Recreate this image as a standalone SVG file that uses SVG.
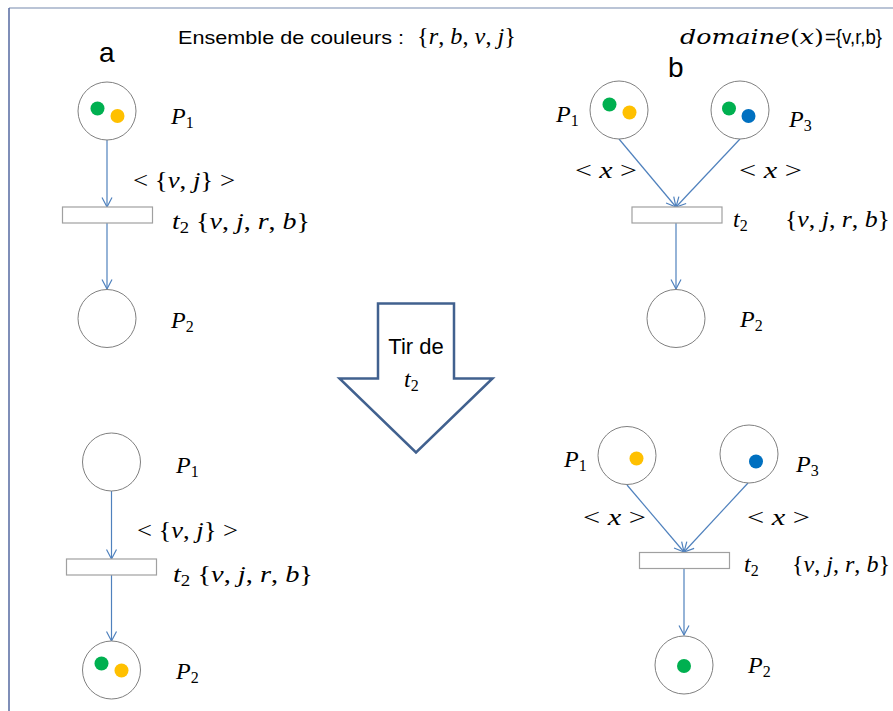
<svg xmlns="http://www.w3.org/2000/svg" width="893" height="711" viewBox="0 0 893 711">
<style>
.place{fill:#fff;stroke:#808080;stroke-width:1}
.trans{fill:#fff;stroke:#a0a0a0;stroke-width:1.2}
.arc{fill:none;stroke:#4f81bd;stroke-width:1.2}
.g{fill:#00b050}.y{fill:#ffc000}.bl{fill:#0070c0}
.m{font-family:"Liberation Serif","DejaVu Serif",serif;font-size:24px;fill:#000}
.i{font-style:italic}
.s{font-family:"Liberation Sans",Arial,sans-serif;fill:#000}
.sub{font-size:16px;font-style:normal}
</style>
<defs>
<marker id="ah" markerUnits="userSpaceOnUse" markerWidth="12" markerHeight="12" viewBox="0 0 12 12" refX="10.5" refY="6" orient="auto">
<path d="M1,1 L10.5,6 L1,11" fill="none" stroke="#4f81bd" stroke-width="1.2"/>
</marker>
</defs>
<rect width="893" height="711" fill="#fff"/>
<line x1="9" y1="8" x2="893" y2="8" stroke="#a3b1c8" stroke-width="1.5"/>
<line x1="9" y1="8" x2="9" y2="711" stroke="#5468a0" stroke-width="1.5"/>

<g id="header">
<text class="s" x="178" y="44" font-size="19" textLength="226" lengthAdjust="spacingAndGlyphs">Ensemble de couleurs :</text>
<text class="m" x="417" y="44" font-size="21" textLength="99" lengthAdjust="spacingAndGlyphs">{<tspan class="i">r</tspan>, <tspan class="i">b</tspan>, <tspan class="i">v</tspan>, <tspan class="i">j</tspan>}</text>
<text x="680" y="44" font-family="'DejaVu Serif','Liberation Serif',serif" font-size="21" textLength="144" lengthAdjust="spacingAndGlyphs"><tspan font-style="italic">domaine</tspan>(<tspan font-style="italic">x</tspan>)</text>
<text class="s" x="825" y="44" font-size="20" textLength="57" lengthAdjust="spacingAndGlyphs">={v,r,b}</text>
<text class="s" x="99" y="61.5" font-size="28">a</text>
<text class="s" x="668" y="76.5" font-size="28">b</text>
</g>

<g id="connectors">
<line class="arc" x1="107" y1="140" x2="107" y2="207" marker-end="url(#ah)"/>
<line class="arc" x1="107" y1="223" x2="107" y2="289" marker-end="url(#ah)"/>
<line class="arc" x1="619" y1="139" x2="676" y2="207" marker-end="url(#ah)"/>
<line class="arc" x1="740" y1="139" x2="676" y2="207" marker-end="url(#ah)"/>
<line class="arc" x1="676" y1="223" x2="676" y2="289" marker-end="url(#ah)"/>
<line class="arc" x1="111.5" y1="491" x2="111.5" y2="559" marker-end="url(#ah)"/>
<line class="arc" x1="111.5" y1="575" x2="111.5" y2="641" marker-end="url(#ah)"/>
<line class="arc" x1="627" y1="485" x2="684" y2="552" marker-end="url(#ah)"/>
<line class="arc" x1="748" y1="483" x2="684" y2="552" marker-end="url(#ah)"/>
<line class="arc" x1="684" y1="568.5" x2="684" y2="635" marker-end="url(#ah)"/>
</g>

<!-- panel a, before -->
<g id="a1-P1">
<circle class="place" cx="107" cy="111" r="29"/>
<circle class="g" cx="97.5" cy="108.5" r="7"/>
<circle class="y" cx="117.5" cy="116" r="7"/>
<text class="m i" x="171" y="124">P<tspan class="sub" dy="4">1</tspan></text>
</g>
<g id="a1-t2">
<rect class="trans" x="62.5" y="207" width="90" height="16"/>
<text class="m" x="172" y="229" textLength="138" lengthAdjust="spacingAndGlyphs"><tspan class="i">t</tspan><tspan class="sub" dy="4">2</tspan><tspan dy="-4">  {</tspan><tspan class="i">v</tspan>, <tspan class="i">j</tspan>, <tspan class="i">r</tspan>, <tspan class="i">b</tspan>}</text>
</g>
<g id="a1-P2">
<circle class="place" cx="107" cy="318.5" r="29"/>
<text class="m i" x="171" y="328">P<tspan class="sub" dy="4">2</tspan></text>
</g>
<text class="m" x="133" y="188" textLength="102" lengthAdjust="spacingAndGlyphs">&lt; {<tspan class="i">v</tspan>, <tspan class="i">j</tspan>} &gt;</text>

<!-- panel b, before -->
<g id="b1-P1">
<circle class="place" cx="619" cy="110" r="29"/>
<circle class="g" cx="609.5" cy="104.5" r="7"/>
<circle class="y" cx="629.5" cy="112.5" r="7"/>
<text class="m i" x="556" y="122">P<tspan class="sub" dy="4">1</tspan></text>
</g>
<g id="b1-P3">
<circle class="place" cx="740" cy="110" r="29"/>
<circle class="g" cx="729" cy="108.5" r="7"/>
<circle class="bl" cx="748.5" cy="116" r="7"/>
<text class="m i" x="789" y="127">P<tspan class="sub" dy="4">3</tspan></text>
</g>
<g id="b1-t2">
<rect class="trans" x="632" y="207" width="90" height="16"/>
<text class="m" x="733" y="227"><tspan class="i">t</tspan><tspan class="sub" dy="4">2</tspan></text>
<text class="m" x="785" y="227" textLength="105" lengthAdjust="spacingAndGlyphs">{<tspan class="i">v</tspan>, <tspan class="i">j</tspan>, <tspan class="i">r</tspan>, <tspan class="i">b</tspan>}</text>
</g>
<g id="b1-P2">
<circle class="place" cx="676" cy="318.5" r="29"/>
<text class="m i" x="740" y="327">P<tspan class="sub" dy="4">2</tspan></text>
</g>
<text class="m" x="575" y="178" textLength="62" lengthAdjust="spacingAndGlyphs">&lt; <tspan class="i">x</tspan> &gt;</text>
<text class="m" x="739" y="178" textLength="63" lengthAdjust="spacingAndGlyphs">&lt; <tspan class="i">x</tspan> &gt;</text>

<!-- firing arrow -->
<g id="fire">
<path d="M378,303.5 L454,303.5 L454,378.5 L492.5,378.5 L416,452.5 L339.5,378.5 L378,378.5 Z" fill="#fff" stroke="#41618f" stroke-width="2.5" stroke-linejoin="miter"/>
<text class="s" x="416" y="353.5" font-size="22" text-anchor="middle">Tir de</text>
<text class="m" x="404" y="386.5"><tspan class="i">t</tspan><tspan class="sub" dy="4">2</tspan></text>
</g>

<!-- panel a, after -->
<g id="a2-P1">
<circle class="place" cx="111.5" cy="462" r="29"/>
<text class="m i" x="176" y="473">P<tspan class="sub" dy="4">1</tspan></text>
</g>
<g id="a2-t2">
<rect class="trans" x="66.5" y="559" width="90" height="16"/>
<text class="m" x="173" y="581.5" textLength="140" lengthAdjust="spacingAndGlyphs"><tspan class="i">t</tspan><tspan class="sub" dy="4">2</tspan><tspan dy="-4">  {</tspan><tspan class="i">v</tspan>, <tspan class="i">j</tspan>, <tspan class="i">r</tspan>, <tspan class="i">b</tspan>}</text>
</g>
<g id="a2-P2">
<circle class="place" cx="111.5" cy="670" r="29"/>
<circle class="g" cx="101.5" cy="663.5" r="7"/>
<circle class="y" cx="121.5" cy="670.5" r="7"/>
<text class="m i" x="176" y="679">P<tspan class="sub" dy="4">2</tspan></text>
</g>
<text class="m" x="137" y="538" textLength="101" lengthAdjust="spacingAndGlyphs">&lt; {<tspan class="i">v</tspan>, <tspan class="i">j</tspan>} &gt;</text>

<!-- panel b, after -->
<g id="b2-P1">
<circle class="place" cx="627" cy="455.5" r="29"/>
<circle class="y" cx="636.5" cy="458.5" r="7"/>
<text class="m i" x="564" y="467">P<tspan class="sub" dy="4">1</tspan></text>
</g>
<g id="b2-P3">
<circle class="place" cx="749" cy="454" r="29"/>
<circle class="bl" cx="756" cy="461.5" r="7"/>
<text class="m i" x="796" y="472">P<tspan class="sub" dy="4">3</tspan></text>
</g>
<g id="b2-t2">
<rect class="trans" x="639.5" y="552.5" width="90" height="16"/>
<text class="m" x="744" y="572"><tspan class="i">t</tspan><tspan class="sub" dy="4">2</tspan></text>
<text class="m" x="792" y="572" textLength="98" lengthAdjust="spacingAndGlyphs">{<tspan class="i">v</tspan>, <tspan class="i">j</tspan>, <tspan class="i">r</tspan>, <tspan class="i">b</tspan>}</text>
</g>
<g id="b2-P2">
<circle class="place" cx="684" cy="665" r="29"/>
<circle class="g" cx="684" cy="666" r="7"/>
<text class="m i" x="748" y="673">P<tspan class="sub" dy="4">2</tspan></text>
</g>
<text class="m" x="583" y="525" textLength="63" lengthAdjust="spacingAndGlyphs">&lt; <tspan class="i">x</tspan> &gt;</text>
<text class="m" x="747" y="525" textLength="63" lengthAdjust="spacingAndGlyphs">&lt; <tspan class="i">x</tspan> &gt;</text>
</svg>
